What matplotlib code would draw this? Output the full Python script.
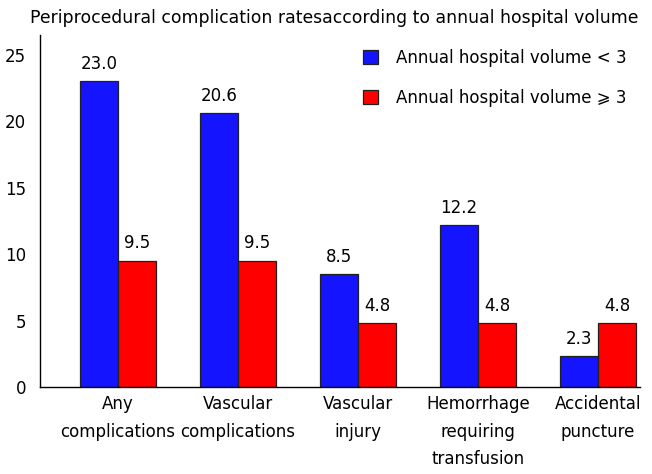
import matplotlib
matplotlib.use("Agg")
import matplotlib.pyplot as plt
import numpy as np

categories = ["Any\ncomplications", "Vascular\ncomplications", "Vascular\ninjury",
              "Hemorrhage\nrequiring\ntransfusion", "Accidental\npuncture"]
low_volume = [23.0, 20.6, 8.5, 12.2, 2.3]
high_volume = [9.5, 9.5, 4.8, 4.8, 4.8]
series_labels = ["Annual hospital volume < 3", "Annual hospital volume \u2a7e 3"]
yticks = [0, 5, 10, 15, 20, 25]
title = "Periprocedural complication ratesaccording to annual hospital volume"

plt.rcParams['font.family'] = ['DejaVu Sans', 'Noto Sans', 'Noto Sans CJK SC']

fs = 12
fig = plt.figure(figsize=(6.52, 4.74), dpi=100)
ax = fig.add_axes([40/652, 87/474, 600/652, 352/474])

x = np.arange(len(categories))
w = 0.315
blue = "#1414FF"
red = "#FF0000"
b1 = ax.bar(x - w/2, low_volume, w, color=blue, edgecolor="#202020", linewidth=0.9,
            label=series_labels[0])
b2 = ax.bar(x + w/2, high_volume, w, color=red, edgecolor="#202020", linewidth=0.9,
            label=series_labels[1])

for bars, vals in ((b1, low_volume), (b2, high_volume)):
    for r, v in zip(bars, vals):
        ax.annotate(f"{v:.1f}", (r.get_x() + r.get_width()/2, v), xytext=(0, 6),
                    textcoords="offset points", ha="center", va="bottom", fontsize=fs)

ax.set_xlim(-0.65, 4.35)
ax.set_ylim(0, 26.5)
ax.set_yticks(yticks)
ax.set_yticklabels([str(t) for t in yticks], fontsize=fs)
ax.set_xticks(x)
ax.set_xticklabels(categories, fontsize=fs, linespacing=1.68)
ax.tick_params(axis="both", length=0)
ax.tick_params(axis="y", pad=10)
ax.tick_params(axis="x", pad=6)
ax.spines["top"].set_visible(False)
ax.spines["right"].set_visible(False)
ax.spines["left"].set_linewidth(1.0)
ax.spines["bottom"].set_linewidth(1.0)

fig.text(30/652, 1 - 18/474, title, fontsize=12.4, ha="left", va="center")

leg = ax.legend(loc="upper left", bbox_to_anchor=(348/652, 1 - 34/474),
                bbox_transform=fig.transFigure, frameon=False, fontsize=fs,
                handlelength=0.9, handleheight=0.9, handletextpad=1.1,
                labelspacing=1.3)

fig.savefig("out.png", dpi=100)
